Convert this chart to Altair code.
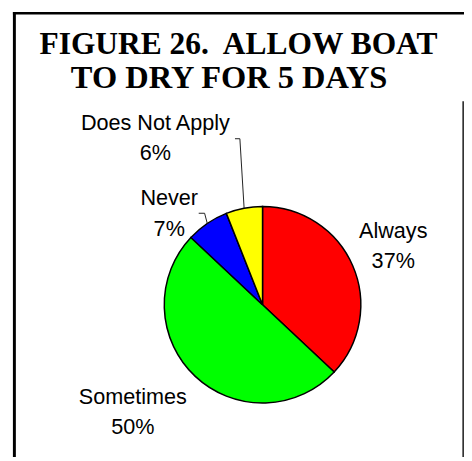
import altair as alt
import pandas as pd

# ---- data ----
categories = ["Always", "Sometimes", "Never", "Does Not Apply"]
values = [37, 50, 7, 6]
colors = ["#FF0000", "#00FF00", "#0000FF", "#FFFF00"]
title_lines = ["FIGURE 26.\u00a0 ALLOW BOAT", "TO DRY FOR 5 DAYS"]

# ---- layout (chart pixels; page = chart + 8) ----
M = 8
W, H = 464, 453
CX, CY, R = 267 - M, 306 - M, 100
label_dtheta = [-3.7, 9.4, -9.0, -20.7]   # degrees from slice midpoint
label_radius = [149.4, 166.2, 138.7, 208.7]
has_leader = [False, False, True, True]
elbow_dx = [0, 0, 36, 86]
elbow_dy = [0, 0, 8, 9]
tick_dx = [0, 0, 30, 81]
title_x = [242.5 - M, 233 - M]
title_y = [50.5 - M, 85.5 - M]
title_size = [32, 33]

df = pd.DataFrame({
    "cat": categories, "v": values, "idx": list(range(len(categories))),
    "ldt": label_dtheta, "lr": label_radius, "lead": has_leader,
    "ex": elbow_dx, "ey": elbow_dy, "tx": tick_dx,
})

base = (
    alt.Chart(df)
    .transform_joinaggregate(total="sum(v)")
    .transform_window(cum="sum(v)", sort=[alt.SortField("idx")], frame=[None, 0])
    .transform_calculate(mid="(datum.cum - datum.v/2)/datum.total*2*PI")
    .transform_calculate(la="datum.mid + datum.ldt*PI/180")
    .transform_calculate(
        lx=f"{CX} + datum.lr*sin(datum.la)",
        ly=f"{CY} - datum.lr*cos(datum.la)",
        lab="datum.cat + '\\n' + format(datum.v/datum.total, '.0%')",
    )
)

pie = alt.Chart(df).mark_arc(outerRadius=R, stroke="black", strokeWidth=1.5).encode(
    theta=alt.Theta("v:Q", stack=True),
    order=alt.Order("idx:Q", sort="ascending"),
    color=alt.Color("cat:N", scale=alt.Scale(domain=categories, range=colors), legend=None),
    x=alt.value(CX),
    y=alt.value(CY),
)

labels = base.mark_text(
    font="Liberation Sans", fontSize=22, lineBreak="\n", lineHeight=31,
    align="center", baseline="alphabetic", color="black",
).encode(
    x=alt.X("lx:Q", scale=None, axis=None),
    y=alt.Y("ly:Q", scale=None, axis=None),
    text="lab:N",
)

leaders = (
    base.transform_filter("datum.lead")
    .transform_calculate(pts="[0, 1, 2]")
    .transform_flatten(["pts"])
    .transform_calculate(
        px=f"datum.pts == 0 ? {CX} + {R}*sin(datum.mid) : (datum.pts == 1 ? datum.lx + datum.ex : datum.lx + datum.tx)",
        py=f"datum.pts == 0 ? {CY} - {R}*cos(datum.mid) : datum.ly + datum.ey",
    )
    .mark_line(color="#202020", strokeWidth=1)
    .encode(
        x=alt.X("px:Q", scale=None, axis=None),
        y=alt.Y("py:Q", scale=None, axis=None),
        detail="cat:N",
        order=alt.Order("pts:Q"),
    )
)

one = pd.DataFrame({"a": [0]})
frame_left = alt.Chart(one).mark_rule(color="black", strokeWidth=3).encode(
    x=alt.value(6.5), y=alt.value(0), y2=alt.value(H))
frame_top = alt.Chart(one).mark_rule(color="black", strokeWidth=2.5).encode(
    x=alt.value(5), x2=alt.value(W), y=alt.value(1.3))
frame_right = alt.Chart(one).mark_rule(color="#333333", strokeWidth=1.8).encode(
    x=alt.value(463.2), y=alt.value(91), y2=alt.value(H))

tdf = pd.DataFrame({"t": title_lines, "tx": title_x, "ty": title_y, "fs": title_size})
title = alt.Chart(tdf).mark_text(
    font="Liberation Serif", fontWeight="bold",
    align="center", baseline="alphabetic", color="black",
).encode(
    x=alt.X("tx:Q", scale=None, axis=None),
    y=alt.Y("ty:Q", scale=None, axis=None),
    size=alt.Size("fs:Q", scale=None, legend=None),
    text="t:N",
)

chart = alt.layer(
    frame_left, frame_top, frame_right, title, pie, leaders, labels
).properties(
    width=W, height=H, autosize=alt.AutoSizeParams(type="none"), padding=0,
).configure_view(stroke=None)

chart.save("out.html", embed_options={"renderer": "svg", "actions": False})
